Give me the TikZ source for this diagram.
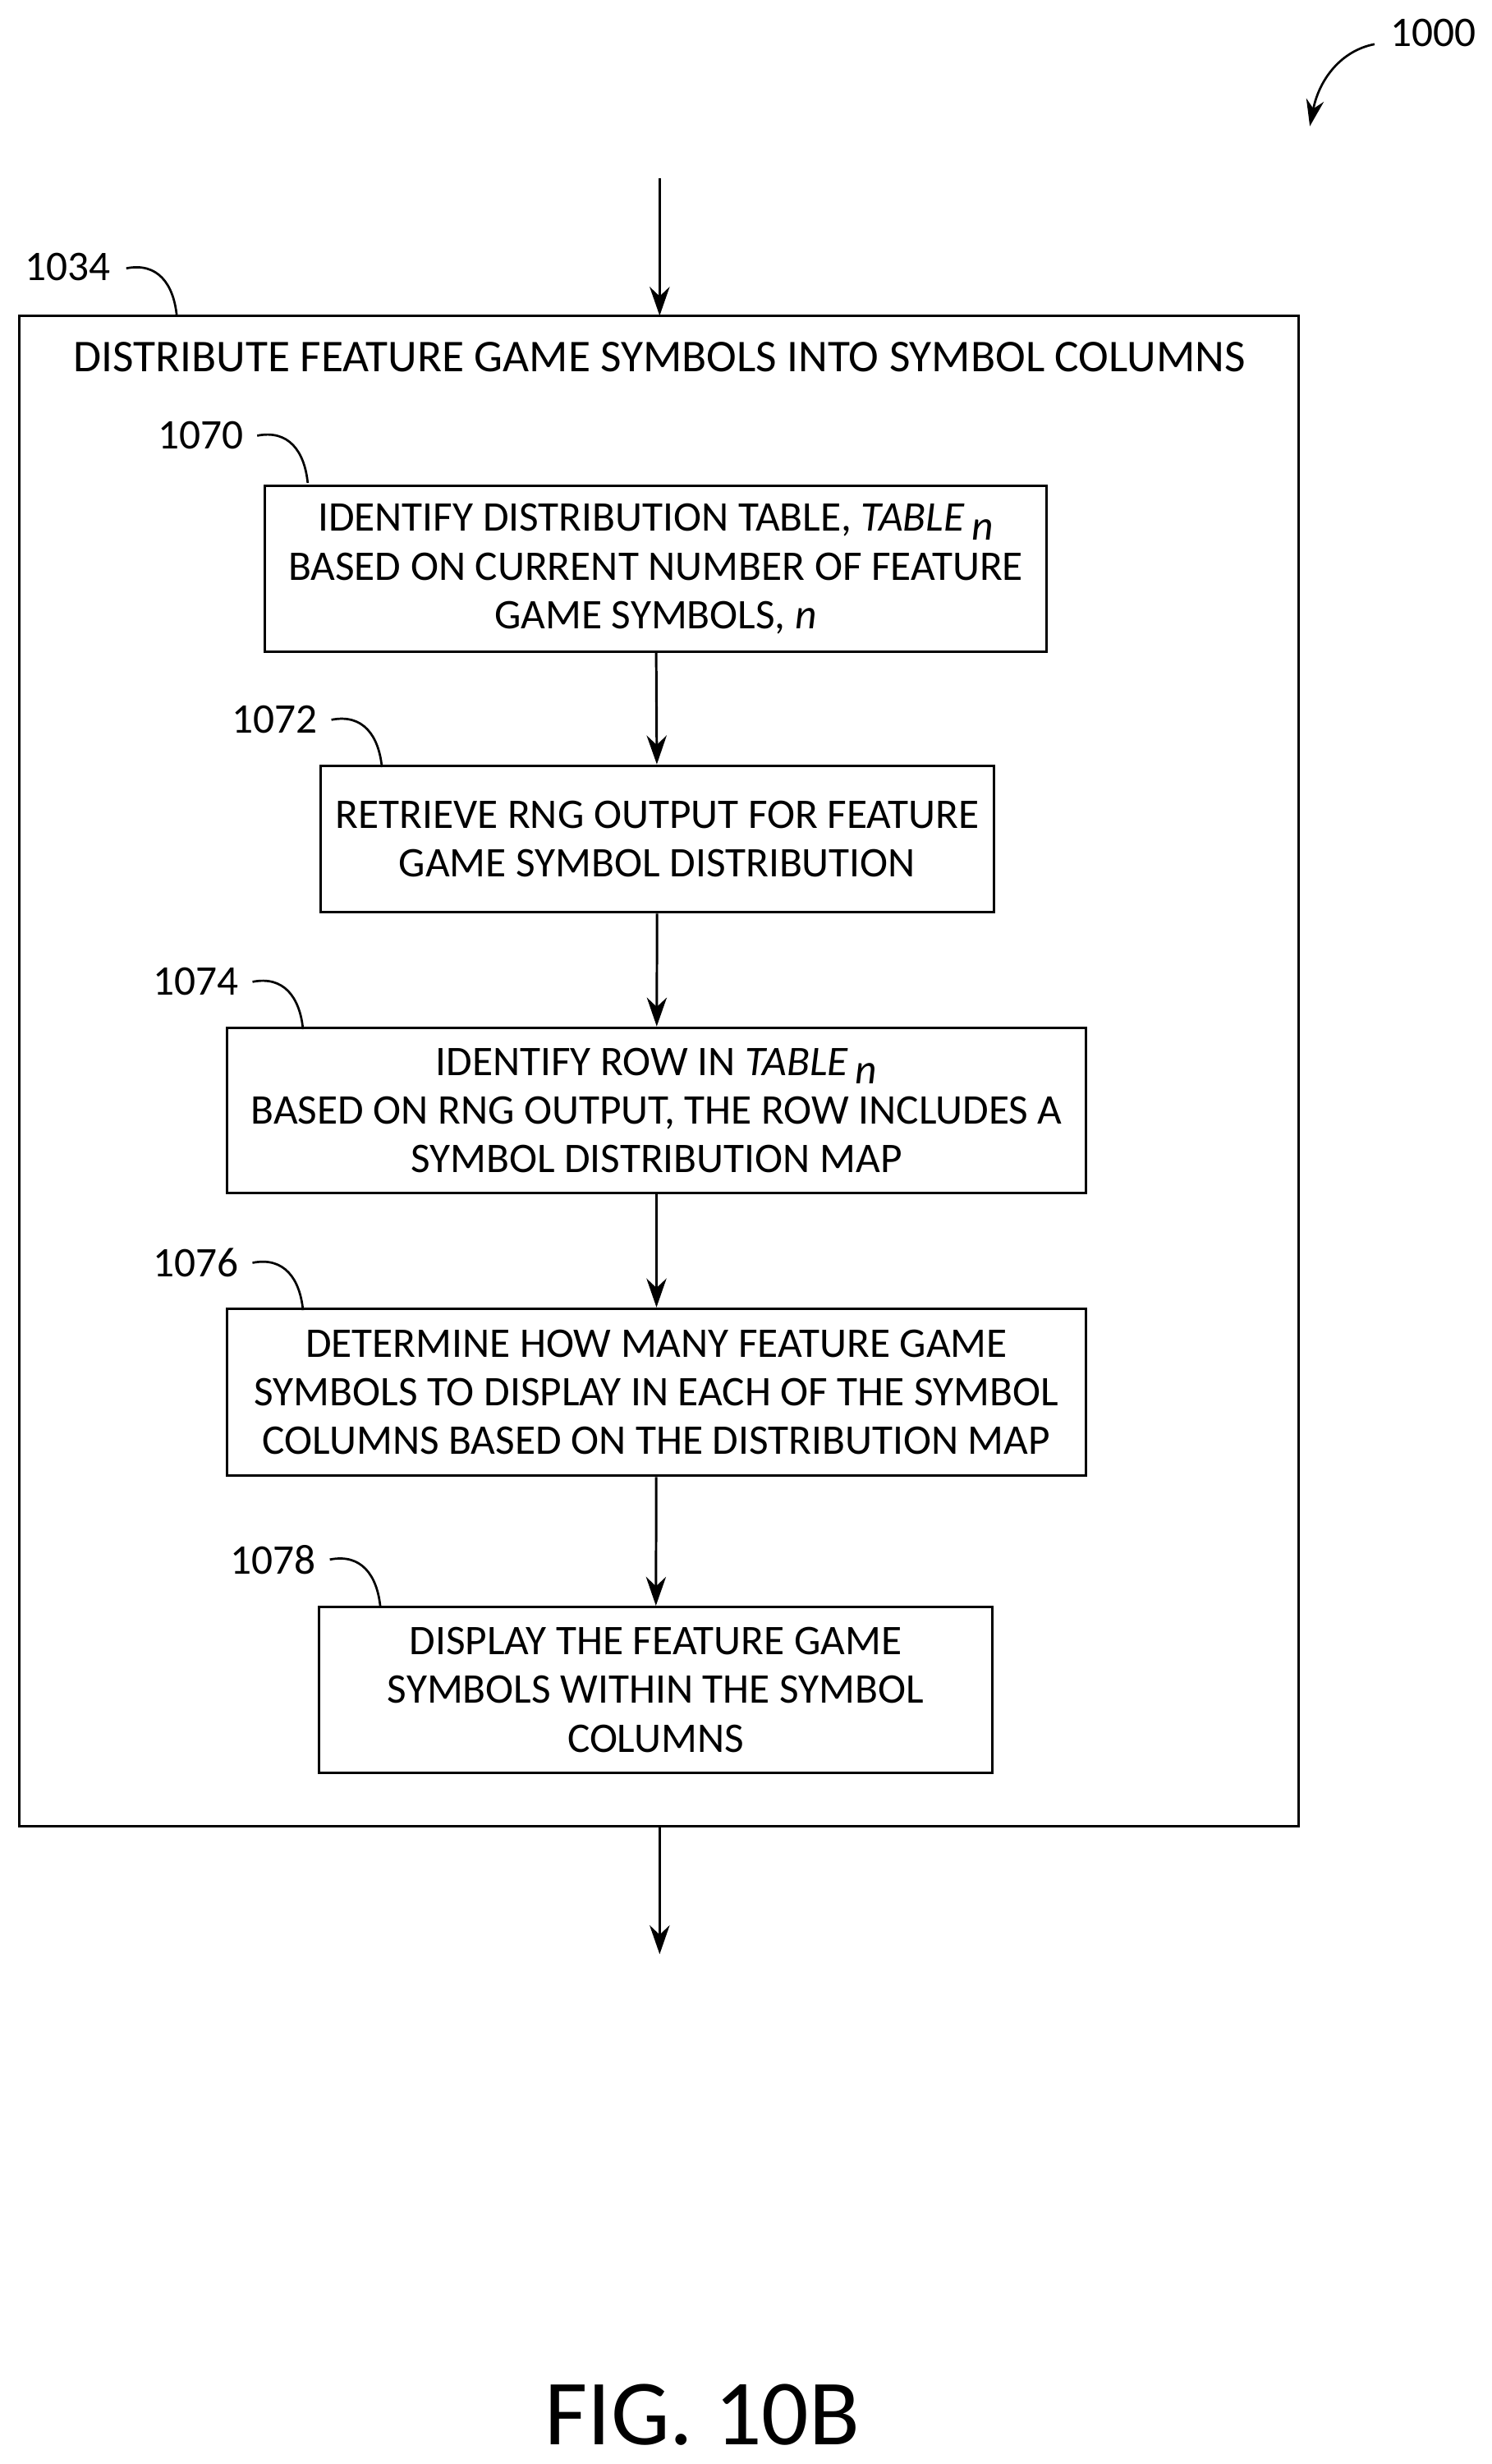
\documentclass[tikz,border=0pt]{standalone}
\usepackage{fontspec}
\setmainfont{Carlito}
\usetikzlibrary{arrows.meta}
\newcommand{\subn}{\raisebox{-8pt}{\textit{n}}}
\begin{document}
\begin{tikzpicture}[x=0.05cm,y=-0.05cm,
  box/.style={draw,line width=2.2pt,align=center,inner sep=0pt,font=\fontsize{38}{44}\selectfont},
  lbl/.style={font=\fontsize{38}{44}\selectfont},
  arr/.style={line width=2.2pt,-{Stealth[length=26pt,width=18pt]}},
  lead/.style={line width=2pt}]
\useasboundingbox (0,0) rectangle (945,1561);
\node[draw,line width=2.2pt,minimum width=40.55cm,minimum height=47.85cm,inner sep=0pt] (outer) at (417.5,678.5) {};
\coordinate (otop) at (418,200);
\coordinate (obot) at (418,1157);
\node[font=\fontsize{41}{44}\selectfont] (title) at (418,226) {DISTRIBUTE FEATURE GAME SYMBOLS INTO SYMBOL COLUMNS};
\node[box,minimum width=24.75cm,minimum height=5.25cm] (b70) at (415.5,360.5) {IDENTIFY DISTRIBUTION TABLE, \textit{TABLE}\,\subn\\BASED ON CURRENT NUMBER OF FEATURE\\GAME SYMBOLS, \textit{n}};
\node[box,minimum width=21.35cm,minimum height=4.65cm] (b72) at (416.5,531.5) {RETRIEVE RNG OUTPUT FOR FEATURE\\GAME SYMBOL DISTRIBUTION};
\node[box,minimum width=27.2cm,minimum height=5.25cm] (b74) at (416,703.5) {IDENTIFY ROW IN \textit{TABLE}\,\subn\\BASED ON RNG OUTPUT, THE ROW INCLUDES A\\SYMBOL DISTRIBUTION MAP};
\node[box,minimum width=27.2cm,minimum height=5.3cm] (b76) at (416,882) {DETERMINE HOW MANY FEATURE GAME\\SYMBOLS TO DISPLAY IN EACH OF THE SYMBOL\\COLUMNS BASED ON THE DISTRIBUTION MAP};
\node[box,minimum width=21.35cm,minimum height=5.25cm] (b78) at (415.5,1070.5) {DISPLAY THE FEATURE GAME\\SYMBOLS WITHIN THE SYMBOL\\COLUMNS};
\coordinate (in) at (418,113);
\coordinate (out) at (418,1238);
\draw[arr] (in) -- (otop);
\draw[arr] (obot) -- (out);
\draw[arr] (b70) -- (b72);
\draw[arr] (b72) -- (b74);
\draw[arr] (b74) -- (b76);
\draw[arr] (b76) -- (b78);
\node[lbl] (l34) at (43,169) {1034};
\node[lbl] (l70) at (127,276) {1070};
\node[lbl] (l72) at (174,456) {1072};
\node[lbl] (l74) at (124,622) {1074};
\node[lbl] (l76) at (124,800) {1076};
\node[lbl] (l78) at (173,988) {1078};
\node[lbl] (l00) at (908,21) {1000};
\draw[lead] (80,170) .. controls (100,166) and (110,180) .. (112,200);
\draw[lead] (163,276) .. controls (183,272) and (193,286) .. (195,306);
\draw[lead] (210,456) .. controls (230,452) and (240,466) .. (242,486);
\draw[lead] (160,622) .. controls (180,618) and (190,632) .. (192,652);
\draw[lead] (160,800) .. controls (180,796) and (190,810) .. (192,830);
\draw[lead] (209,988) .. controls (229,984) and (239,998) .. (241,1018);
\draw[line width=2pt,-{Stealth[length=24pt,width=16pt]}] (871,28) .. controls (850,32) and (836,50) .. (830,80);
\node[font=\fontsize{84}{90}\selectfont] (fig) at (445,1530) {FIG. 10B};
\end{tikzpicture}
\end{document}
